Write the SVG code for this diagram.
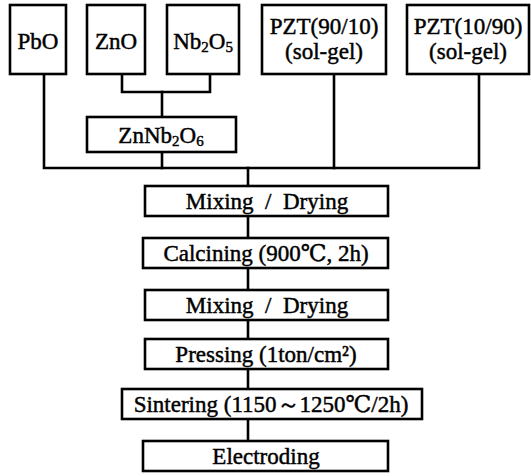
<svg xmlns="http://www.w3.org/2000/svg" width="531" height="476" viewBox="0 0 531 476">
<style>
.box{fill:#fff;stroke:#000;stroke-width:2.6}
.ln{fill:none;stroke:#000;stroke-width:2.6;stroke-linejoin:miter;stroke-linecap:square}
.t{font-family:"Liberation Serif", "DejaVu Serif", serif;font-size:23px;fill:#000;text-anchor:middle;stroke:#000;stroke-width:0.45}
.sub{font-size:15px}
</style>
<rect width="531" height="476" fill="#fff"/>
<g id="connectors">
<polyline class="ln" points="44,74 44,168 479,168 479,74"/>
<line class="ln" x1="334" y1="74" x2="334" y2="168"/>
<polyline class="ln" points="122,74 122,92 210,92 210,74"/>
<line class="ln" x1="162" y1="92" x2="162" y2="117"/>
<line class="ln" x1="162" y1="152" x2="162" y2="168"/>
<line class="ln" x1="248" y1="168" x2="248" y2="186"/>
<line class="ln" x1="248" y1="216" x2="248" y2="238"/>
<line class="ln" x1="248" y1="268" x2="248" y2="290"/>
<line class="ln" x1="248" y1="320" x2="248" y2="339"/>
<line class="ln" x1="248" y1="369" x2="248" y2="389"/>
<line class="ln" x1="248" y1="419" x2="248" y2="441"/>
</g>
<g id="pbo"><rect class="box" x="10" y="5" width="56" height="69"/><text class="t" x="38" y="49">PbO</text></g>
<g id="zno"><rect class="box" x="87" y="5" width="58" height="69"/><text class="t" x="116" y="49">ZnO</text></g>
<g id="nb2o5"><rect class="box" x="167" y="5" width="72" height="69"/><text class="t" x="203" y="49">Nb<tspan class="sub" dy="3">2</tspan><tspan dy="-3">O</tspan><tspan class="sub" dy="3">5</tspan></text></g>
<g id="pzt9010"><rect class="box" x="262" y="5" width="124" height="69"/><text class="t" x="324" y="34">PZT(90/10)</text><text class="t" x="324" y="59">(sol-gel)</text></g>
<g id="pzt1090"><rect class="box" x="407" y="5" width="122" height="69"/><text class="t" x="468" y="34">PZT(10/90)</text><text class="t" x="468" y="59">(sol-gel)</text></g>
<g id="znnb2o6"><rect class="box" x="87" y="117" width="149" height="35"/><text class="t" x="161" y="143">ZnNb<tspan class="sub" dy="3">2</tspan><tspan dy="-3">O</tspan><tspan class="sub" dy="3">6</tspan></text></g>
<g id="mixing1"><rect class="box" x="145" y="186" width="243" height="30"/><text class="t" x="267" y="209" xml:space="preserve">Mixing  /  Drying</text></g>
<g id="calcining"><rect class="box" x="143" y="238" width="245" height="30"/><text class="t" x="266" y="261">Calcining (900℃, 2h)</text></g>
<g id="mixing2"><rect class="box" x="145" y="290" width="243" height="30"/><text class="t" x="267" y="313" xml:space="preserve">Mixing  /  Drying</text></g>
<g id="pressing"><rect class="box" x="145" y="339" width="243" height="30"/><text class="t" x="266" y="362">Pressing (1ton/cm²)</text></g>
<g id="sintering"><rect class="box" x="122" y="389" width="300" height="30"/><text class="t" x="271" y="412">Sintering (1150～1250℃/2h)</text></g>
<g id="electroding"><rect class="box" x="143" y="441" width="245" height="30"/><text class="t" x="266" y="464">Electroding</text></g>
</svg>
